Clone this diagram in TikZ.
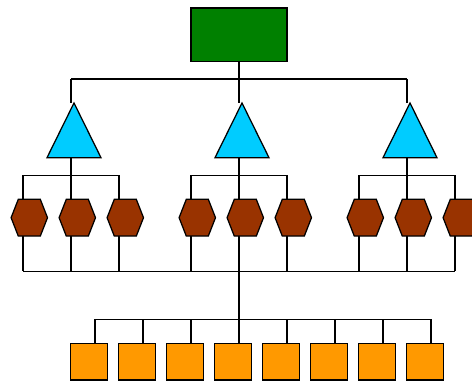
\documentclass[tikz,border=0pt]{standalone}
\definecolor{rootgreen}{RGB}{0,128,0}
\definecolor{tricyan}{RGB}{0,204,255}
\definecolor{hexbrown}{RGB}{153,51,0}
\definecolor{sqorange}{RGB}{255,153,0}
\tikzset{
  slot/.style={rectangle, draw=none, inner sep=0pt, outer sep=0pt},
  rootslot/.style={slot, minimum width=96pt, minimum height=53.5pt},
  trislot/.style={slot, minimum width=54pt, minimum height=54.7pt},
  hexslot/.style={slot, minimum width=36.4pt, minimum height=36.8pt},
  sqslot/.style={slot, minimum width=36.7pt, minimum height=36.7pt},
  link/.style={draw=black, line width=1.25pt},
  outline/.style={draw=black, line width=1.25pt, line join=miter},
  rootfill/.style={outline, fill=rootgreen},
  trifill/.style={outline, fill=tricyan},
  hexfill/.style={outline, fill=hexbrown},
  sqfill/.style={outline, fill=sqorange}
}
\begin{document}
\begin{tikzpicture}[x=1pt,y=-1pt]
\useasboundingbox (0,0) rectangle (472,382);
% ---- nodes (slots) ----
\node[rootslot] (root) at (239,34.8) {};
\foreach \n/\x in {1/74,2/242,3/410}
  \node[trislot] (t\n) at (\x,130.35) {};
\foreach \n/\x in {1/29.3,2/77.3,3/125.3,4/197.3,5/245.3,6/293.3,7/365.3,8/413.3,9/461.3}
  \node[hexslot] (h\n) at (\x,217.7) {};
\foreach \n/\x in {1/89,2/137,3/185,4/233,5/281,6/329,7/377,8/425}
  \node[sqslot] (s\n) at (\x,361.7) {};
% ---- junction coordinates ----
\coordinate (j0) at (239,79);
\coordinate (bus3) at (239,271.3);
\coordinate (bus4) at (239,319.3);
\foreach \n/\x in {1/71,2/239,3/407}{
  \coordinate (a\n) at (\x,79);
  \coordinate (c\n) at (\x,175.3);
  \coordinate (cL\n) at ([xshift=-48pt]c\n);
  \coordinate (cR\n) at ([xshift=48pt]c\n);
}
\foreach \n/\x in {1/95,2/143,3/191,4/239,5/287,6/335,7/383,8/431}
  \coordinate (e\n) at (\x,319.3);
% ---- connectors ----
\draw[link] (root.south) -- (j0);
\draw[link] (a1) -- (a3);
\foreach \n in {1,2,3}{
  \draw[link] (a\n) -- (a\n |- t\n.north);
  \draw[link] (a\n |- t\n.south) -- (c\n);
  \draw[link] (cL\n) -- (cR\n);
  \draw[link] (cL\n) -- (cL\n |- bus3);
  \draw[link] (c\n) -- (c\n |- bus3);
  \draw[link] (cR\n) -- (cR\n |- bus3);
}
\draw[link] (cL1 |- bus3) -- (cR3 |- bus3);
\draw[link] (bus3) -- (bus4);
\draw[link] (e1) -- (e8);
\foreach \n in {1,...,8}
  \draw[link] (e\n) -- (e\n |- s\n.north);
% ---- shapes ----
\filldraw[rootfill] (root.south west) rectangle (root.north east);
\foreach \n in {1,2,3}
  \filldraw[trifill] (t\n.north) -- (t\n.south east) -- (t\n.south west) -- cycle;
\foreach \n in {1,...,9}
  \filldraw[hexfill] (h\n.west) -- ([xshift=7.2pt]h\n.north west) -- ([xshift=-7.2pt]h\n.north east)
    -- (h\n.east) -- ([xshift=-7.2pt]h\n.south east) -- ([xshift=7.2pt]h\n.south west) -- cycle;
\foreach \n in {1,...,8}
  \filldraw[sqfill] (s\n.south west) rectangle (s\n.north east);
\end{tikzpicture}
\end{document}
